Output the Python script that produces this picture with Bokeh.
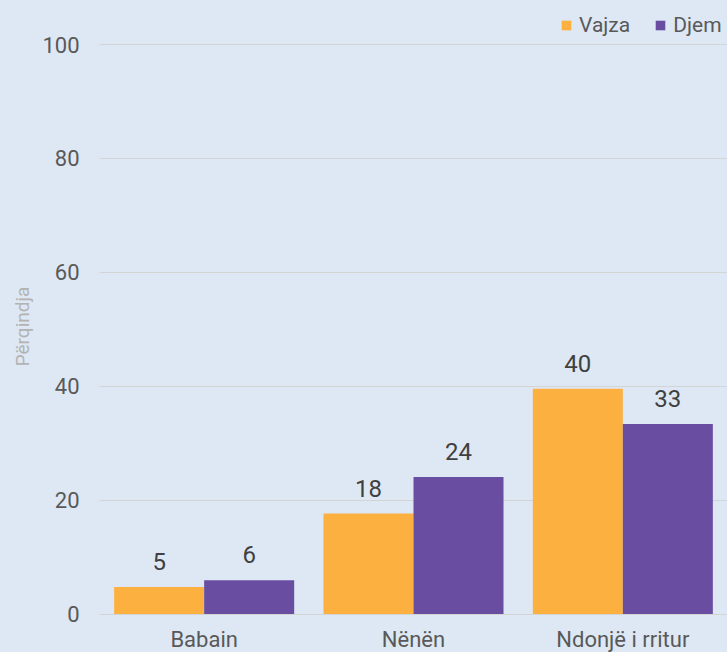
from bokeh.plotting import figure
from bokeh.models import FactorRange, Range1d, ColumnDataSource, Legend, LegendItem
from bokeh.transform import dodge
from bokeh.core.properties import value
from bokeh.embed import file_html
from bokeh.resources import INLINE

categories = ["Babain", "Nënën", "Ndonjë i rritur"]
vajza = [4.8, 17.7, 39.6]
djem = [6.0, 24.1, 33.4]
series_names = ["Vajza", "Djem"]
y_ticks = [0, 20, 40, 60, 80, 100]

BG = "#dde8f4"
ORANGE = "#fcb040"
PURPLE = "#684da0"
FONT = "Roboto"

src = ColumnDataSource(dict(
    cat=categories,
    vajza=vajza,
    djem=djem,
    vajza_lbl=[str(int(round(v))) for v in vajza],
    djem_lbl=[str(int(round(v))) for v in djem],
))

p = figure(width=727, height=652,
           x_range=FactorRange(*categories, range_padding=0),
           y_range=Range1d(-6.67, 107.72),
           output_backend="svg", toolbar_location=None,
           min_border_left=99, min_border_right=0, min_border_top=0, min_border_bottom=0)

p.background_fill_color = BG
p.border_fill_color = BG
p.outline_line_color = None

w = 0.43
r1 = p.vbar(x=dodge("cat", -w / 2, range=p.x_range), top="vajza", width=w, source=src,
            fill_color=ORANGE, line_color=None)
r2 = p.vbar(x=dodge("cat", w / 2, range=p.x_range), top="djem", width=w, source=src,
            fill_color=PURPLE, line_color=None)

p.text(x=dodge("cat", -w / 2, range=p.x_range), y="vajza", text="vajza_lbl", source=src,
       text_align="center", text_baseline="bottom", y_offset=-17,
       text_font=value(FONT), text_font_size="24px", text_color="#404040")
p.text(x=dodge("cat", w / 2, range=p.x_range), y="djem", text="djem_lbl", source=src,
       text_align="center", text_baseline="bottom", y_offset=-17,
       text_font=value(FONT), text_font_size="24px", text_color="#404040")

# axes
p.xgrid.grid_line_color = None
p.ygrid.grid_line_color = "#d4d4d4"
p.ygrid.grid_line_width = 1
p.yaxis.ticker = y_ticks
p.yaxis.axis_line_color = None
p.yaxis.major_tick_line_color = None
p.yaxis.minor_tick_line_color = None
p.yaxis.major_tick_out = 0
p.yaxis.major_label_text_font = FONT
p.yaxis.major_label_text_font_size = "22px"
p.yaxis.major_label_text_color = "#595959"
p.yaxis.major_label_standoff = 20
p.yaxis.axis_label = "Përqindja"
p.yaxis.axis_label_text_font = FONT
p.yaxis.axis_label_text_font_style = "normal"
p.yaxis.axis_label_text_font_size = "19px"
p.yaxis.axis_label_text_color = "#b3b3b3"
p.yaxis.axis_label_standoff = 5

p.xaxis.fixed_location = 0
p.xaxis.axis_line_color = "#d4d4d4"
p.xaxis.major_tick_line_color = None
p.xaxis.minor_tick_line_color = None
p.xaxis.major_tick_out = 0
p.xaxis.major_tick_in = 0
p.xaxis.major_label_text_font = FONT
p.xaxis.major_label_text_font_size = "22px"
p.xaxis.major_label_text_color = "#595959"
p.xaxis.major_label_standoff = 13

legend = Legend(items=[LegendItem(label=series_names[0], renderers=[r1]),
                       LegendItem(label=series_names[1], renderers=[r2])],
                location=(461, 615), orientation="horizontal",
                background_fill_alpha=0, border_line_color=None,
                padding=0, margin=0, spacing=24, glyph_width=12, glyph_height=12,
                label_standoff=7, label_text_font=FONT, label_text_font_size="21px",
                label_text_color="#595959")
p.add_layout(legend)

html = file_html(p, INLINE)
html = html.replace("</head>", "<style>body{background:%s;}</style></head>" % BG, 1)
open("out.html", "w").write(html)
